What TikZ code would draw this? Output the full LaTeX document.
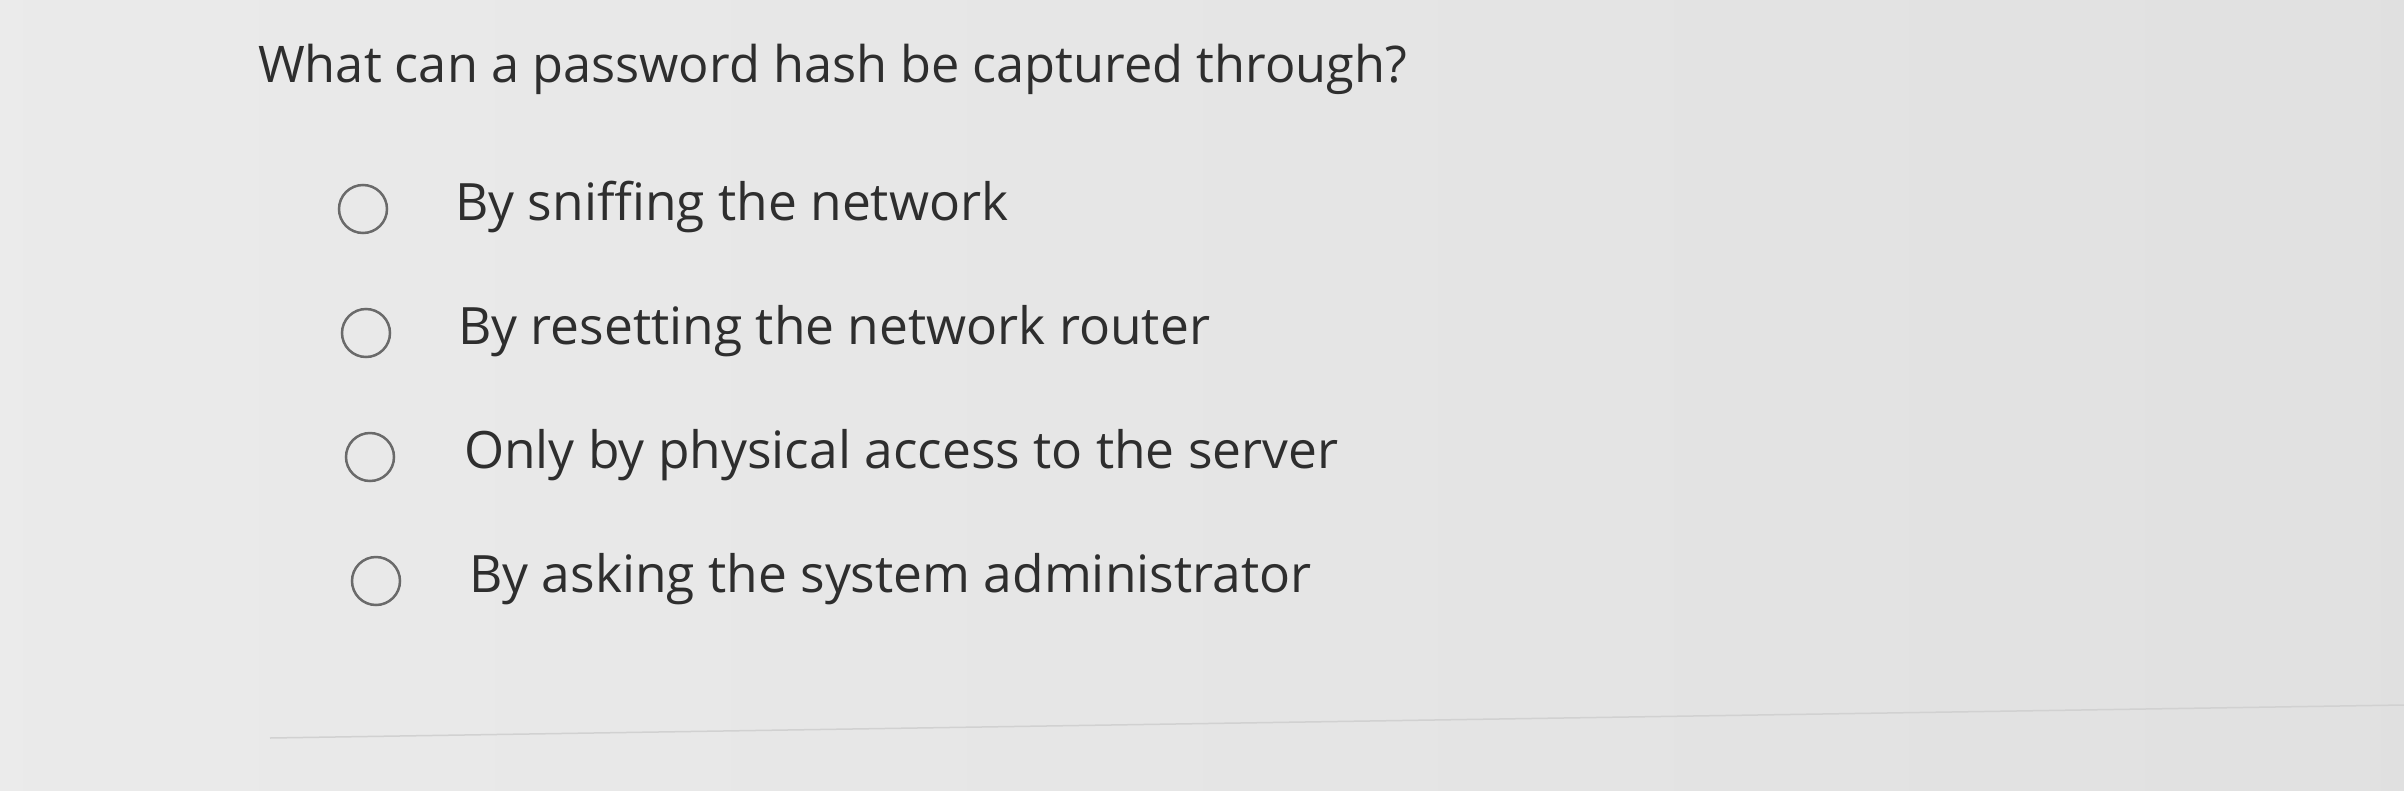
\documentclass[tikz,border=0pt]{standalone}
\usepackage{fontspec}
\setmainfont{Open Sans}
\definecolor{txt}{HTML}{2E2E2E}
\definecolor{circ}{HTML}{6A6A6A}
\begin{document}
\begin{tikzpicture}[x=1pt,y=1pt,
  q/.style={anchor=west,inner sep=0pt,text=txt,font=\fontsize{50.5}{56}\selectfont},
  opt/.style={anchor=west,inner sep=0pt,text=txt,font=\fontsize{51.5}{58}\selectfont},
  radio/.style={circle,draw=circ,line width=2.5pt,minimum size=48pt,inner sep=0pt}]
\shade[left color=black!8,right color=black!12] (0,0) rectangle (2404,-790);
\useasboundingbox (0,0) rectangle (2404,-790);
\draw[black!18,line width=1.5pt] (270,-738) -- (2404,-705);
\node[q] (question) at (258,-69) {What can a password hash be captured through?};
\node[radio] (r1) at (363,-209) {};
\node[radio] (r2) at (366,-333) {};
\node[radio] (r3) at (370,-457) {};
\node[radio] (r4) at (376,-581) {};
\node[opt] (o1) at (455,-207) {By sniffing the network};
\node[opt] (o2) at (458,-331) {By resetting the network router};
\node[opt] (o3) at (464,-455) {Only by physical access to the server};
\node[opt] (o4) at (469,-579) {By asking the system administrator};
\end{tikzpicture}
\end{document}
